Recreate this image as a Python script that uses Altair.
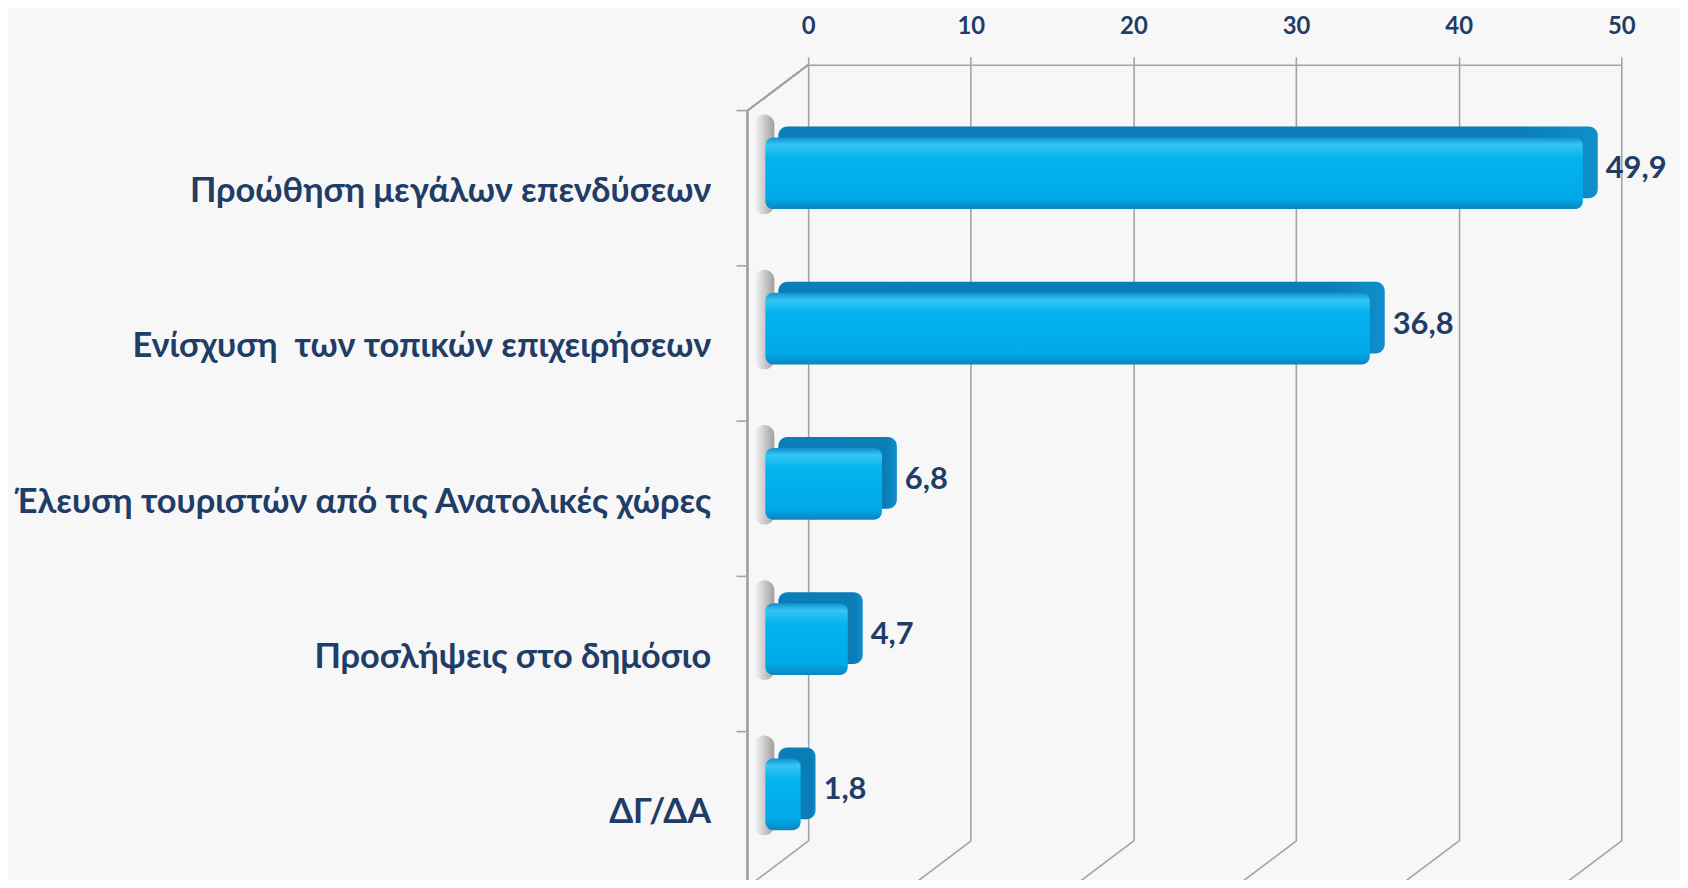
import altair as alt
import pandas as pd

categories = [
    "Προώθηση μεγάλων επενδύσεων",
    "Ενίσχυση\u00a0 των τοπικών επιχειρήσεων",
    "Έλευση τουριστών από τις Ανατολικές χώρες",
    "Προσλήψεις στο δημόσιο",
    "ΔΓ/ΔΑ",
]
values = [49.9, 36.8, 6.8, 4.7, 1.8]
ticks = [0, 10, 20, 30, 40, 50]

df = pd.DataFrame({"cat": categories, "value": values})
tdf = pd.DataFrame({"t": ticks})

NAVY = "#1F3D66"
GRID = "#A3A3A3"
FONT = "Lato, 'Open Sans', 'DejaVu Sans', sans-serif"
W, H = 817, 780
WALL = 61  # depth offset of the left wall / floor in px

xscale = alt.Scale(domain=[0, 50], nice=False, zero=True)
yscale = alt.Scale(domain=categories, paddingInner=0, paddingOuter=0)

xaxis = alt.Axis(
    orient="top", values=ticks, grid=True, gridColor=GRID, gridWidth=1.6,
    domain=True, domainColor=GRID, domainWidth=1.6, tickColor=GRID, tickWidth=1.6,
    tickSize=8, labelFont=FONT, labelFontSize=24, labelFontWeight="bold",
    labelColor=NAVY, labelPadding=18, labelFlush=False, title=None,
)
yaxis = alt.Axis(
    orient="left", offset=WALL + 11, domain=False, ticks=False,
    labelOffset=50, labelPadding=26, labelFont=FONT, labelFontSize=34.5,
    labelFontWeight="bold", labelColor=NAVY, labelLimit=900, title=None,
)

def X(field):
    return alt.X(field, scale=xscale, axis=xaxis)

def Y(**kw):
    return alt.Y("cat:N", scale=yscale, sort=categories, axis=yaxis, **kw)

base = alt.Chart(df)

# axes + grid carrier
frame = base.mark_bar(opacity=0).encode(x=X("value:Q"), y=Y())

# 3D frame: left wall line, left ticks, top diagonal, floor diagonals
left_wall = alt.Chart(tdf).mark_rule(color=GRID, strokeWidth=1.6).encode(
    x=alt.value(-WALL), y=alt.value(46), y2=alt.value(H + 46)
)
left_ticks = base.mark_rule(color=GRID, strokeWidth=1.6, yOffset=46).encode(
    y=Y(bandPosition=0), x=alt.value(-WALL - 11), x2=alt.value(-WALL)
)
top_diag = alt.Chart(tdf).mark_rule(color=GRID, strokeWidth=1.6).encode(
    x=alt.value(0), x2=alt.value(-WALL), y=alt.value(0), y2=alt.value(46)
)
floor = alt.Chart(tdf).mark_rule(color=GRID, strokeWidth=1.6, x2Offset=-WALL).encode(
    x=X("t:Q"), x2="t:Q", y=alt.value(H), y2=alt.value(H + 46),
)

# soft shadow on the wall
shadow = base.mark_bar(
    size=100, yOffset=22, xOffset=-34, x2Offset=-54, cornerRadius=16,
    color=alt.Gradient(
        gradient="linear", x1=0, x2=1, y1=0, y2=0,
        stops=[alt.GradientStop(offset=0, color="#F7F7F7"),
               alt.GradientStop(offset=1, color="#7A7A7A")],
    ), opacity=0.7,
).encode(x=alt.datum(0, scale=xscale), x2=alt.datum(0), y=Y())

back = base.mark_bar(
    size=72, yOffset=20, xOffset=-22, x2Offset=-30, cornerRadius=9,
    color=alt.Gradient(
        gradient="linear", x1=0, x2=1, y1=0, y2=0,
        stops=[alt.GradientStop(offset=0, color="#0B7DB8"),
               alt.GradientStop(offset=0.9, color="#0A7CB6"),
               alt.GradientStop(offset=1, color="#0F8FCB")],
    ),
).encode(x=X("value:Q"), x2=alt.datum(0), y=Y())

front = base.mark_bar(
    size=72, yOffset=31, xOffset=-37, x2Offset=-43, cornerRadius=8,
    color=alt.Gradient(
        gradient="linear", x1=0, x2=0, y1=0, y2=1,
        stops=[alt.GradientStop(offset=0, color="#1090CC"),
               alt.GradientStop(offset=0.1, color="#35C6F4"),
               alt.GradientStop(offset=0.28, color="#05B3EF"),
               alt.GradientStop(offset=0.85, color="#00A9E8"),
               alt.GradientStop(offset=1, color="#0A86C0")],
    ),
).encode(x=X("value:Q"), x2=alt.datum(0), y=Y())

labels = base.transform_calculate(
    lab="replace(format(datum.value, '.1f'), '.', ',')"
).mark_text(
    align="left", baseline="middle", xOffset=-14, yOffset=27,
    font=FONT, fontSize=31, fontWeight="bold", color=NAVY,
).encode(x=X("value:Q"), y=Y(), text="lab:N")

chart = alt.layer(frame, left_wall, left_ticks, top_diag, floor, shadow, back, front, labels).properties(
    width=W, height=H,
    autosize=alt.AutoSizeParams(type="none"),
    padding={"left": 804, "top": 55, "right": 59, "bottom": 37},
    background="#F7F7F7",
).configure_view(stroke=None)

chart.save("out.html", embed_options={"renderer": "svg", "actions": False})
